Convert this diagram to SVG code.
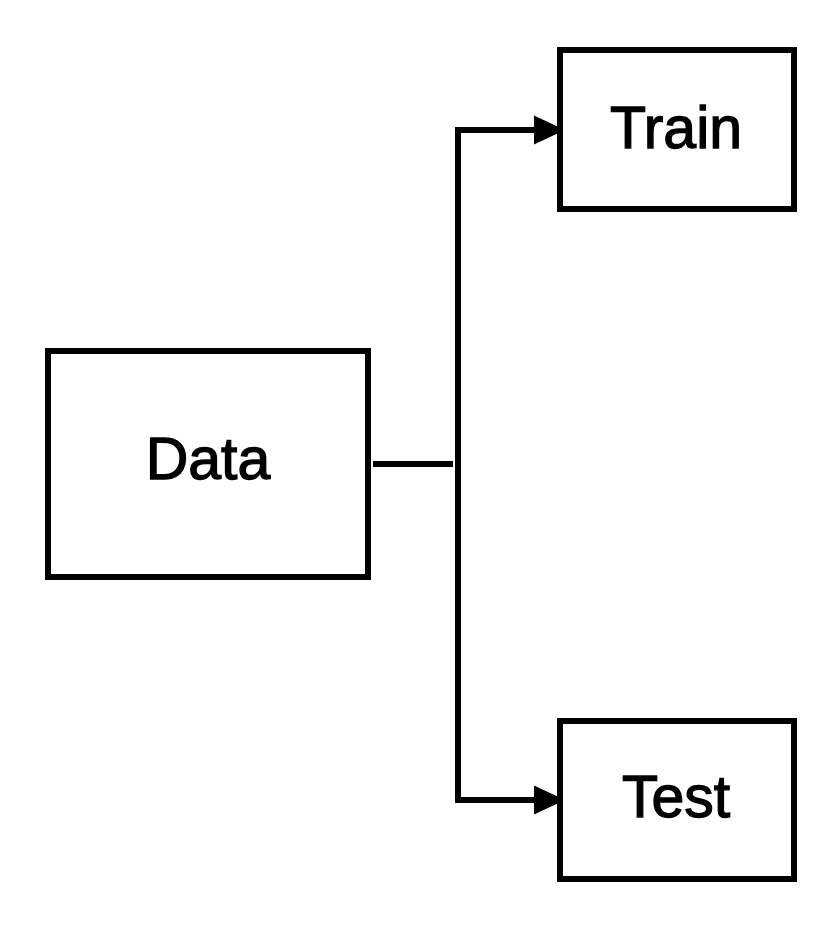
<svg xmlns="http://www.w3.org/2000/svg" width="830" height="932" viewBox="0 0 830 932">
<style>
.box{fill:#fff;stroke:#000;stroke-width:6}
.lbl{font-family:"Liberation Sans",Arial,sans-serif;font-size:59px;fill:#000;stroke:#000;stroke-width:1.3;text-anchor:middle}
.conn{fill:none;stroke:#000;stroke-width:6;stroke-linejoin:miter}
</style>
<defs>
<marker id="arr" markerUnits="userSpaceOnUse" markerWidth="31" markerHeight="30" refX="31" refY="15" orient="auto" viewBox="0 0 31 30">
<path d="M0,0.5 L31,15 L0,29.5 z" fill="#000"/>
</marker>
</defs>
<rect width="830" height="932" fill="#fff"/>
<g id="connectors">
<line class="conn" x1="373" y1="464" x2="453" y2="464"/>
<path class="conn" d="M458,464 V130 H565" marker-end="url(#arr)"/>
<path class="conn" d="M458,464 V800 H565" marker-end="url(#arr)"/>
</g>
<g id="data">
<rect class="box" x="48" y="351" width="320" height="226"/>
<text class="lbl" x="208" y="479">Data</text>
</g>
<g id="train">
<rect class="box" x="560" y="50" width="234" height="159"/>
<text class="lbl" x="676" y="148">Train</text>
</g>
<g id="test">
<rect class="box" x="560" y="721" width="234" height="158"/>
<text class="lbl" x="676" y="817">Test</text>
</g>
</svg>
